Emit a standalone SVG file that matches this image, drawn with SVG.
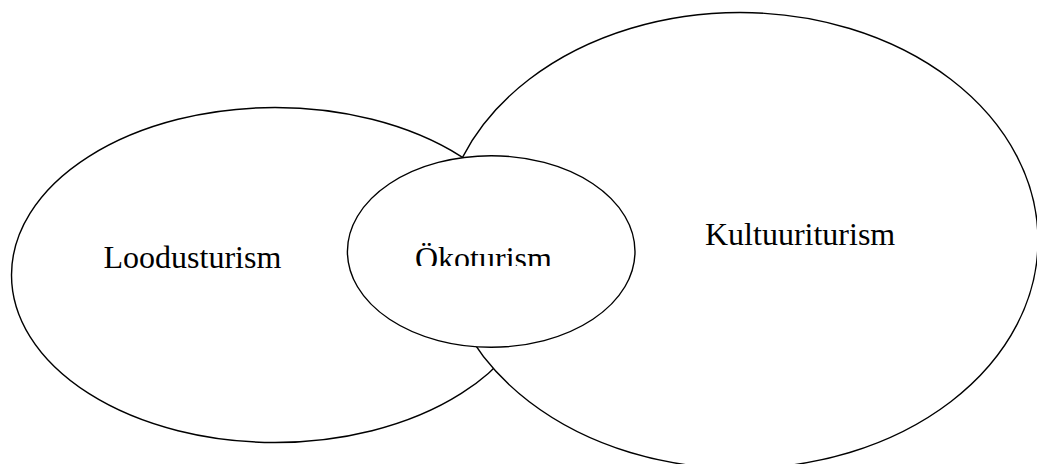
<svg xmlns="http://www.w3.org/2000/svg" width="1037" height="464" viewBox="0 0 1037 464">
<defs>
<style>
.shape{fill:#ffffff;stroke:#000000;stroke-width:1.4}
.label{font-family:"Liberation Serif","Times New Roman",serif;font-size:32px;fill:#000000}
</style>
<clipPath id="okoClip"><rect x="340" y="150" width="300" height="116"/></clipPath>
</defs>
<rect x="0" y="0" width="1037" height="464" fill="#ffffff"/>
<g id="connectors"></g>
<g id="loodusturism">
<ellipse class="shape" cx="275" cy="275" rx="263.5" ry="167.5"/>
<text class="label" x="103.5" y="268.3">Loodusturism</text>
</g>
<g id="kultuuriturism">
<ellipse class="shape" cx="740" cy="240.5" rx="298" ry="228"/>
<text class="label" x="705" y="245">Kultuuriturism</text>
</g>
<g id="okoturism">
<ellipse class="shape" cx="491.2" cy="251.5" rx="143.8" ry="95.8"/>
<text class="label" x="415" y="268.5" clip-path="url(#okoClip)">Ökoturism</text>
</g>
</svg>
